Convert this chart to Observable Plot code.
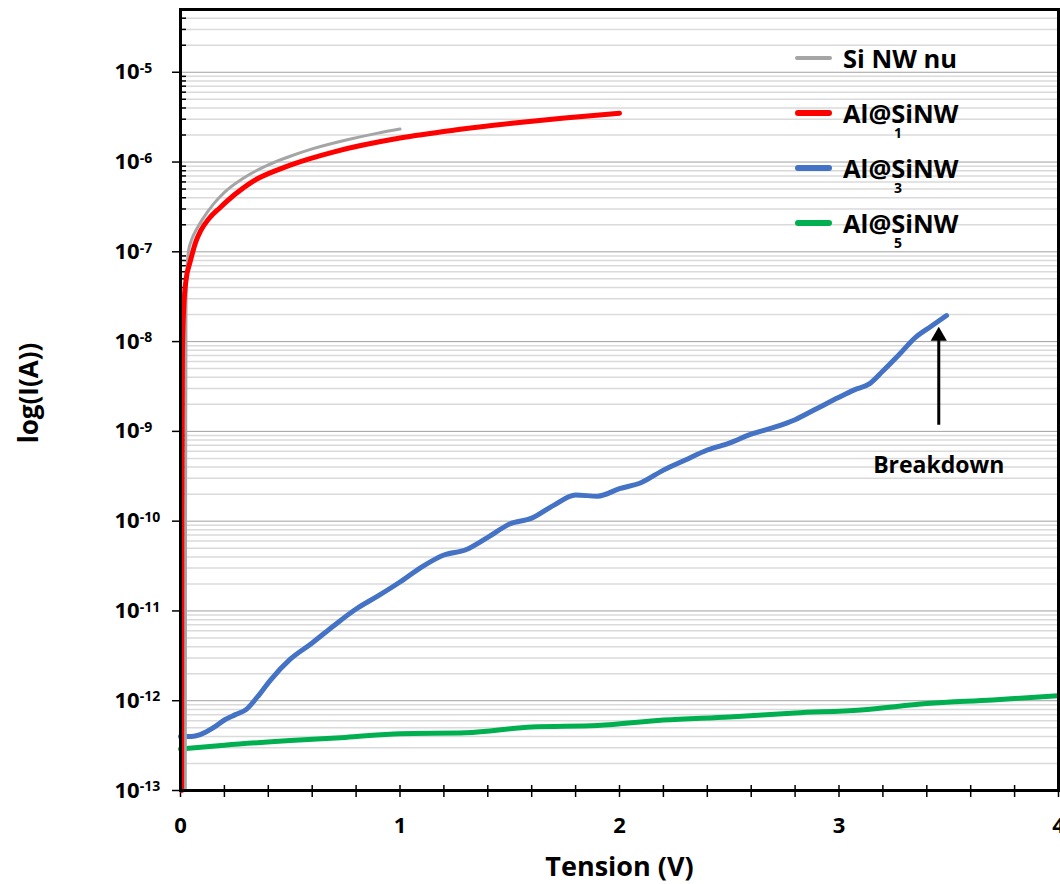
<!DOCTYPE html>
<html><head><meta charset="utf-8">
<script src="https://cdn.jsdelivr.net/npm/d3@7"></script>
<script src="https://cdn.jsdelivr.net/npm/@observablehq/plot@0.6"></script>
<style>
body{margin:0;background:#fff;}
#wrap{position:relative;width:1060px;height:884px;overflow:hidden;font-family:"Open Sans",sans-serif;font-weight:bold;}
.leg{position:absolute;left:795px;width:220px;height:0;}
.leg .ln{position:absolute;left:0;width:37px;border-radius:3px;}
.leg .lb{position:absolute;left:48px;top:-18px;font-size:25.5px;line-height:36px;white-space:nowrap;color:#000;}
.leg .sb{position:absolute;left:99px;top:11px;font-size:14px;line-height:18px;color:#000;}
</style></head><body><div id="wrap"></div>
<script>
// ---- data ----
const grayV = [0.022, 0.023, 0.025, 0.03, 0.036, 0.05, 0.077, 0.1, 0.15, 0.2, 0.29, 0.4, 0.5, 0.6, 0.76, 0.9, 1.0];
const grayI = [1e-13, 1e-10, 2.5e-8, 6.5e-8, 1.0e-7, 1.35e-7, 1.85e-7, 2.3e-7, 3.4e-7, 4.6e-7, 6.7e-7, 9.3e-7, 1.16e-6, 1.4e-6, 1.77e-6, 2.1e-6, 2.33e-6];

const redV = [0.005, 0.006, 0.009, 0.014, 0.025, 0.045, 0.07, 0.091, 0.13, 0.18, 0.25, 0.33, 0.455, 0.5, 0.7, 1.0, 1.25, 1.51, 1.75, 2.0];
const redI = [1e-13, 1e-10, 8e-9, 2.2e-8, 4.8e-8, 7.9e-8, 1.3e-7, 1.7e-7, 2.35e-7, 3.1e-7, 4.4e-7, 6.1e-7, 8.4e-7, 9.25e-7, 1.3e-6, 1.85e-6, 2.27e-6, 2.7e-6, 3.1e-6, 3.5e-6];

const blueV = [0, 0.05, 0.09, 0.15, 0.2, 0.25, 0.3, 0.35, 0.41, 0.5, 0.6, 0.7, 0.8, 0.9, 1.0, 1.1, 1.2, 1.3, 1.4, 1.5, 1.6, 1.7, 1.8, 1.9, 2.0, 2.1, 2.2, 2.3, 2.4, 2.5, 2.6, 2.7, 2.8, 2.9, 3.0, 3.07, 3.14, 3.2, 3.27, 3.35, 3.42, 3.49];
const blueI = [4.0e-13, 4.0e-13, 4.2e-13, 5.0e-13, 6.1e-13, 7.0e-13, 8.0e-13, 1.1e-12, 1.7e-12, 2.9e-12, 4.4e-12, 6.9e-12, 1.05e-11, 1.47e-11, 2.1e-11, 3.1e-11, 4.2e-11, 4.8e-11, 6.6e-11, 9.3e-11, 1.08e-10, 1.5e-10, 1.95e-10, 1.9e-10, 2.3e-10, 2.7e-10, 3.7e-10, 4.8e-10, 6.2e-10, 7.4e-10, 9.3e-10, 1.1e-9, 1.35e-9, 1.8e-9, 2.4e-9, 2.9e-9, 3.4e-9, 4.7e-9, 7.0e-9, 1.12e-8, 1.48e-8, 1.95e-8];

const greenV = [0, 0.2, 0.5, 0.75, 1.0, 1.3, 1.6, 1.9, 2.2, 2.5, 2.8, 3.1, 3.4, 3.7, 4.0];
const greenI = [2.9e-13, 3.2e-13, 3.6e-13, 3.9e-13, 4.3e-13, 4.4e-13, 5.1e-13, 5.3e-13, 6.1e-13, 6.6e-13, 7.3e-13, 7.9e-13, 9.3e-13, 1.02e-12, 1.14e-12];

const seriesNames = ["Si NW nu", "Al@SiNW", "Al@SiNW", "Al@SiNW"];
const seriesSubs = ["", "1", "3", "5"];
const seriesColors = ["#a5a5a5", "#ff0000", "#4472c4", "#00b050"];

const xTickLabels = [0, 1, 2, 3, 4];
const decades = [-13, -12, -11, -10, -9, -8, -7, -6, -5];

// annotation (data coordinates)
const breakdownV = 3.4545;
const breakdownArrowFrom = 1.17e-9;
const breakdownArrowShaftTo = 1.2e-8;
const breakdownArrowTip = 1.15e-8;
const breakdownLabelI = 4.2e-10;
const breakdownLabel = "Breakdown";

// ---- build ----
const toRows = (V, I) => V.map((v, i) => ({v, i: I[i]}));
const gray = toRows(grayV, grayI), red = toRows(redV, redI), blue = toRows(blueV, blueI), green = toRows(greenV, greenI);

const majorTicks = decades.map(e => Math.pow(10, e));
const minorTicks = decades.flatMap(e => [2,3,4,5,6,7,8,9].map(k => k * Math.pow(10, e))).filter(v => v <= 5.01e-5);
const xMinor = d3.range(0, 21).map(k => k * 0.2);

const W = 1060, H = 884, ML = 180, MR = 2, MT = 9, MB = 94;
const innerW = W - ML - MR, innerH = H - MT - MB;

const chart = Plot.plot({
  width: W, height: H,
  marginLeft: ML, marginRight: MR, marginTop: MT, marginBottom: MB,
  style: {fontFamily: '"Open Sans", sans-serif', fontSize: "22px", fontWeight: "bold", background: "white", color: "black", overflow: "visible"},
  x: {domain: [0, 4], axis: null},
  y: {type: "log", domain: [1e-13, 5e-5], axis: null},
  marks: [
    Plot.ruleY(minorTicks, {stroke: "#dadada", strokeWidth: 1.5}),
    Plot.ruleY(majorTicks.slice(1), {stroke: "#a0a0a0", strokeWidth: 1}),
    Plot.ruleY(minorTicks, {stroke: "black", strokeWidth: 1.5, insetRight: innerW - 6}),
    Plot.ruleX(xMinor, {stroke: "black", strokeWidth: 1.5, insetTop: innerH - 5, insetBottom: -7}),
    Plot.axisY({ticks: majorTicks, tickSize: 8, tickPadding: 58, textAnchor: "start", strokeWidth: 1.5, label: null,
      tickFormat: d => "10^" + Math.round(Math.log10(d))}),
    Plot.axisX({ticks: xTickLabels, tickSize: 0, tickPadding: 27, label: null, tickFormat: d => String(d)}),
    Plot.line(green, {x: "v", y: "i", stroke: seriesColors[3], strokeWidth: 5, curve: "monotone-x"}),
    Plot.line(blue, {x: "v", y: "i", stroke: seriesColors[2], strokeWidth: 5, curve: "monotone-x"}),
    Plot.line(gray, {x: "v", y: "i", stroke: seriesColors[0], strokeWidth: 3, curve: "monotone-x"}),
    Plot.line(red, {x: "v", y: "i", stroke: seriesColors[1], strokeWidth: 5, curve: "monotone-x"}),
    Plot.ruleX([breakdownV], {y1: breakdownArrowFrom, y2: breakdownArrowShaftTo, stroke: "black", strokeWidth: 3}),
    Plot.dot([breakdownV], {x: d => d, y: () => breakdownArrowTip, symbol: "triangle", r: 6, fill: "black", stroke: "none"}),
    Plot.text([breakdownLabel], {x: () => breakdownV, y: () => breakdownLabelI, text: d => d, fontSize: 23, lineAnchor: "middle"}),
    Plot.text(["log(I(A))"], {frameAnchor: "left", text: d => d, rotate: -90, dx: -143, dy: -7, fontSize: 26, textAnchor: "middle", lineAnchor: "bottom"}),
    Plot.text(["Tension (V)"], {frameAnchor: "bottom", text: d => d, dy: 85, fontSize: 27, textAnchor: "middle", lineAnchor: "bottom"}),
    Plot.frame({stroke: "black", strokeWidth: 3})
  ]
});

// superscript exponents on y tick labels
d3.select(chart).selectAll('g[aria-label="y-axis tick label"] text').each(function() {
  const t = this.textContent;
  if (!t.includes("^")) return;
  const [base, exp] = t.split("^");
  const sel = d3.select(this);
  sel.text(null);
  sel.append("tspan").text(base);
  sel.append("tspan").attr("dy", "-0.45em").attr("font-size", "14px").text(exp);
});

const wrap = document.getElementById("wrap");
wrap.appendChild(chart);

// legend (HTML overlay inside plot area)
const legendRowCenters = [58, 113, 168, 223];
seriesNames.forEach((name, k) => {
  const row = document.createElement("div");
  row.className = "leg";
  row.style.top = legendRowCenters[k] + "px";
  const ln = document.createElement("div");
  ln.className = "ln";
  const lw = k === 0 ? 4 : 6;
  ln.style.height = lw + "px";
  ln.style.top = (-lw / 2) + "px";
  ln.style.background = seriesColors[k];
  row.appendChild(ln);
  const lb = document.createElement("div");
  lb.className = "lb";
  lb.textContent = name;
  row.appendChild(lb);
  if (seriesSubs[k]) {
    const sb = document.createElement("div");
    sb.className = "sb";
    sb.textContent = seriesSubs[k];
    row.appendChild(sb);
  }
  wrap.appendChild(row);
});
</script></body></html>
